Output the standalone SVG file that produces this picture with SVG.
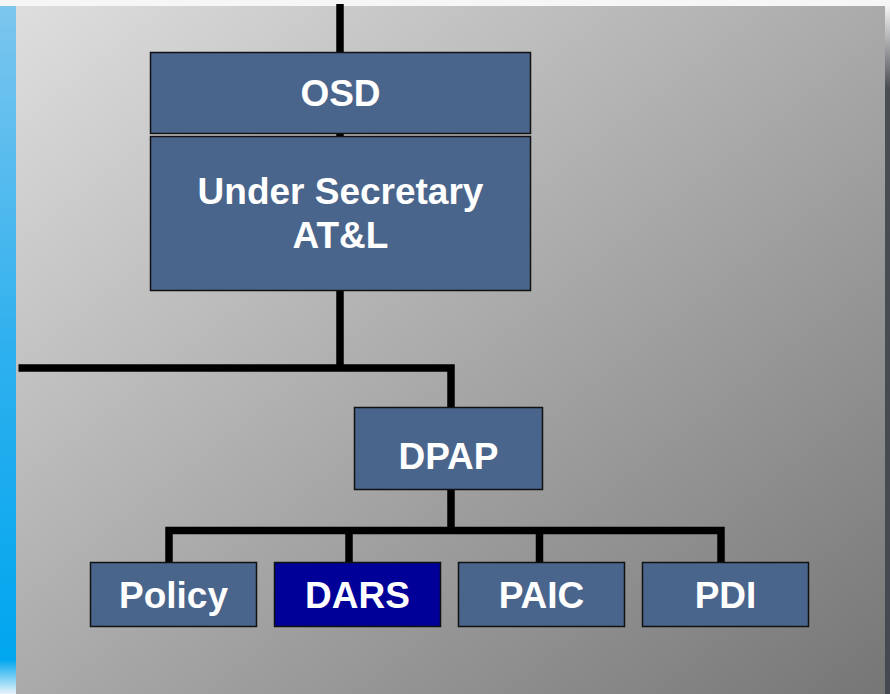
<svg xmlns="http://www.w3.org/2000/svg" width="890" height="694" viewBox="0 0 890 694">
<defs>
<linearGradient id="panel" x1="0" y1="0" x2="1" y2="1">
<stop offset="0" stop-color="#dedede"/>
<stop offset="1" stop-color="#767676"/>
</linearGradient>
<linearGradient id="blue" x1="0" y1="0" x2="0" y2="1">
<stop offset="0" stop-color="#7cc6ee"/>
<stop offset="0.5" stop-color="#2eb0ee"/>
<stop offset="0.95" stop-color="#00a6ef"/>
<stop offset="1" stop-color="#e8f4fb"/>
</linearGradient>
<linearGradient id="right" x1="0" y1="0" x2="0" y2="1">
<stop offset="0" stop-color="#f4f4f4"/>
<stop offset="0.12" stop-color="#4a4d52"/>
<stop offset="1" stop-color="#444850"/>
</linearGradient>
<style>
.box{fill:#4a658c;stroke:#111;stroke-width:1.5}
.dars{fill:#000099;stroke:#111;stroke-width:1.5}
.t{font-family:"Liberation Sans",Arial,sans-serif;font-weight:bold;font-size:37px;fill:#ffffff;text-anchor:middle}
.c{fill:none;stroke:#000;stroke-width:7.5;stroke-linejoin:miter;stroke-linecap:butt}
</style>
</defs>
<rect x="0" y="0" width="890" height="694" fill="#f6f6f6"/>
<rect x="0" y="6" width="16" height="688" fill="url(#blue)"/>
<rect x="885" y="6" width="5" height="688" fill="url(#right)"/>
<rect x="16" y="6" width="869" height="688" fill="url(#panel)"/>
<g id="connectors">
<path class="c" d="M340 4 V368"/>
<path class="c" d="M18.5 368 H451 V407"/>
<path class="c" d="M451 490 V530.5"/>
<path class="c" d="M169 562 V530.5 H721 V562"/>
<path class="c" d="M349 530.5 V562"/>
<path class="c" d="M539.5 530.5 V562"/>
</g>
<g id="osd">
<rect class="box" x="150.5" y="52.5" width="380" height="81"/>
<text class="t" x="340.5" y="106">OSD</text>
</g>
<g id="under-secretary">
<rect class="box" x="150.5" y="136.5" width="380" height="154"/>
<text class="t" x="340.5" y="204">Under Secretary</text>
<text class="t" x="340.5" y="248">AT&amp;L</text>
</g>
<g id="dpap">
<rect class="box" x="354.5" y="407.5" width="188" height="82"/>
<text class="t" x="448.5" y="469">DPAP</text>
</g>
<g id="policy">
<rect class="box" x="90.5" y="562.5" width="166" height="64"/>
<text class="t" x="173.5" y="608">Policy</text>
</g>
<g id="dars">
<rect class="dars" x="274.5" y="562.5" width="166" height="64"/>
<text class="t" x="357.5" y="608">DARS</text>
</g>
<g id="paic">
<rect class="box" x="458.5" y="562.5" width="166" height="64"/>
<text class="t" x="541.5" y="608">PAIC</text>
</g>
<g id="pdi">
<rect class="box" x="642.5" y="562.5" width="166" height="64"/>
<text class="t" x="725.5" y="608">PDI</text>
</g>
</svg>
